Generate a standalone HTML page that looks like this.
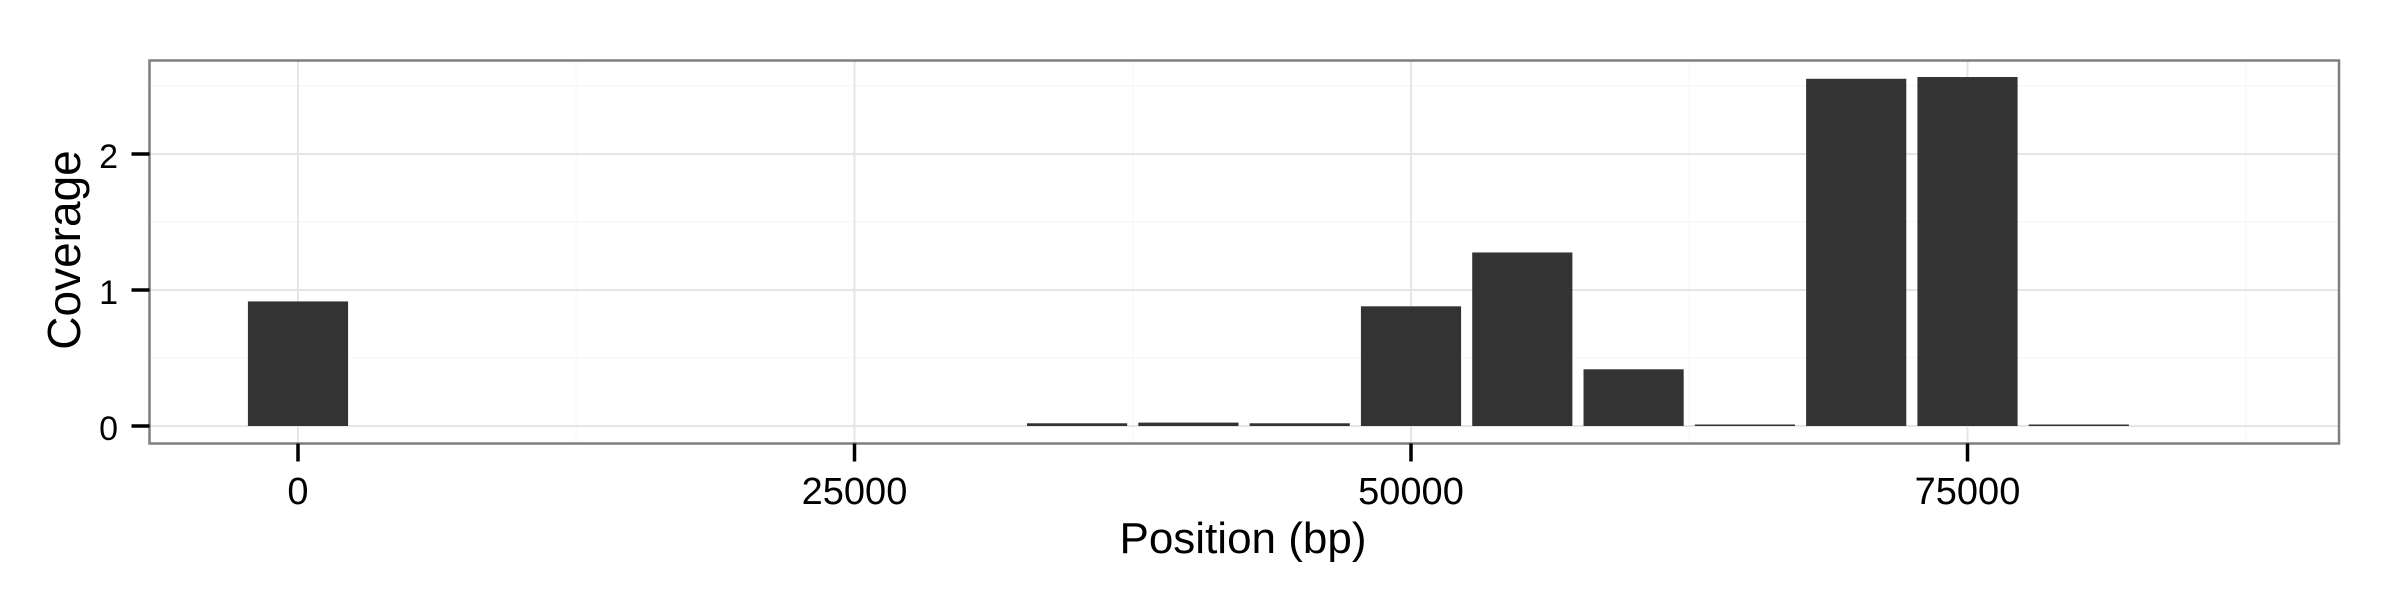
<!DOCTYPE html>
<html><head><meta charset="utf-8"><style>
html,body{margin:0;padding:0;background:#fff}
svg{display:block;font-family:"Liberation Sans",Arial,sans-serif}
</style></head><body>
<svg id="chart" width="2400" height="600" viewBox="0 0 2400 600">
<rect x="0" y="0" width="2400" height="600" fill="#fff"/>
<g id="grid"></g>
<g id="bars"></g>
<rect x="149.5" y="60.5" width="2189.5" height="383" fill="none" stroke="#7f7f7f" stroke-width="2.5"/>
<g id="axes"></g>
<text x="1243" y="553" font-size="44" text-anchor="middle">Position (bp)</text>
<text transform="translate(80,250) rotate(-90)" font-size="46" text-anchor="middle">Coverage</text>
</svg>
<script>
const positions = [0, 35000, 40000, 45000, 50000, 55000, 60000, 65000, 70000, 75000, 80000];
const coverage = [0.916, 0.02, 0.025, 0.02, 0.88, 1.276, 0.417, 0.011, 2.553, 2.566, 0.011];
const xTicks = [0, 25000, 50000, 75000];
const xTickLabels = ["0", "25000", "50000", "75000"];
const xMinor = [12500, 37500, 62500, 87500];
const yTicks = [0, 1, 2];
const yTickLabels = ["0", "1", "2"];
const yMinor = [0.5, 1.5, 2.5];
const binWidth = 4500;

const PL = 149.5, PR = 2339, PT = 60.5, PB = 443.5;
const X0 = 298, XS = 556.5 / 25000;
const Y0 = 426, YS = 136;
function xs(v){ return X0 + v * XS; }
function ys(v){ return Y0 - v * YS; }
const NS = "http://www.w3.org/2000/svg";
function mk(tag, attrs, parent){ const e = document.createElementNS(NS, tag); for (const k in attrs) e.setAttribute(k, attrs[k]); parent.appendChild(e); return e; }

const grid = document.getElementById('grid');
yMinor.forEach(v => {
  const l = mk('line', {x1: PL, x2: PR, y1: ys(v), y2: ys(v), stroke: '#fafafa', 'stroke-width': 2}, grid);
  
  
});
xMinor.forEach(v => {
  const l = mk('line', {x1: xs(v), x2: xs(v), y1: PT, y2: PB, stroke: '#fafafa', 'stroke-width': 2}, grid);
  
  
});
yTicks.forEach(v => {
  const l = mk('line', {x1: PL, x2: PR, y1: ys(v), y2: ys(v), stroke: '#e6e6e6', 'stroke-width': 2}, grid);
  
  
});
xTicks.forEach(v => {
  const l = mk('line', {x1: xs(v), x2: xs(v), y1: PT, y2: PB, stroke: '#e6e6e6', 'stroke-width': 2}, grid);
  
  
});

const bars = document.getElementById('bars');
positions.forEach((p, i) => {
  const x1 = xs(p - binWidth / 2), x2 = xs(p + binWidth / 2);
  const y = ys(coverage[i]);
  const r = mk('rect', {x: x1, y: y, width: x2 - x1, height: Y0 - y, fill: '#333333'}, bars);
  
  
});

const axes = document.getElementById('axes');
yTicks.forEach((v, i) => {
  const t = mk('line', {x1: PL - 18, x2: PL, y1: ys(v), y2: ys(v), stroke: '#000', 'stroke-width': 3.5}, axes);
  
  
  const tx = mk('text', {x: 118, y: ys(v) + 14, 'font-size': 34, 'text-anchor': 'end'}, axes);
  tx.textContent = yTickLabels[i];
  
  
});
xTicks.forEach((v, i) => {
  const t = mk('line', {x1: xs(v), x2: xs(v), y1: PB, y2: PB + 18, stroke: '#000', 'stroke-width': 3.5}, axes);
  
  
  const tx = mk('text', {x: xs(v), y: 504, 'font-size': 38, 'text-anchor': 'middle'}, axes);
  tx.textContent = xTickLabels[i];
  
  
});
</script>
</body></html>
